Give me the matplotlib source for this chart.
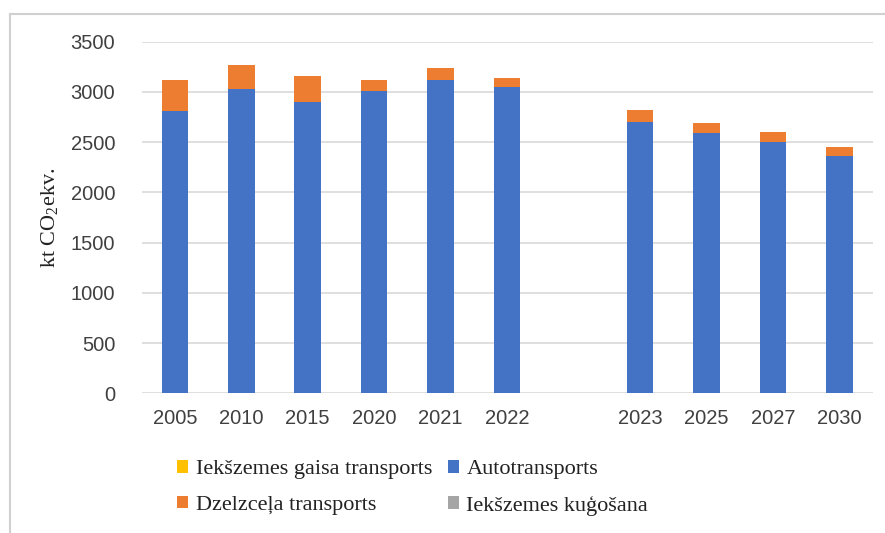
import matplotlib
matplotlib.use("Agg")
import matplotlib.pyplot as plt
from matplotlib.patches import Patch
from matplotlib.lines import Line2D
import numpy as np

plt.rcParams["mathtext.fontset"] = "custom"
plt.rcParams["mathtext.rm"] = "Liberation Serif"

# Categories (blank slot separates historic data from projections)
years = ["2005", "2010", "2015", "2020", "2021", "2022", "", "2023", "2025", "2027", "2030"]

# Emissions by sub-sector, kt CO2 eq.
aviation = [3, 3, 3, 2, 2, 2, 0, 2, 2, 2, 2]            # Iekšzemes gaisa transports
road = [2810, 3030, 2900, 3010, 3115, 3050, 0, 2700, 2590, 2500, 2360]   # Autotransports
rail = [306, 235, 257, 107, 116, 88, 0, 116, 94, 94, 88]          # Dzelzceļa transports
shipping = [2, 2, 2, 1, 1, 1, 0, 1, 1, 1, 1]             # Iekšzemes kuģošana

series_names = ["Iekšzemes gaisa transports", "Autotransports",
                "Dzelzceļa transports", "Iekšzemes kuģošana"]
colors = ["#FFC000", "#4472C4", "#ED7D31", "#A5A5A5"]
y_ticks = [0, 500, 1000, 1500, 2000, 2500, 3000, 3500]

fig = plt.figure(figsize=(8.85, 5.33), dpi=100)
ax = fig.add_axes([0.160, 0.262, 0.826, 0.660])

x = np.arange(len(years))
mask = np.array([y != "" for y in years])
bottom = np.zeros(len(years))
handles = []
for vals, name, col in zip([aviation, road, rail, shipping], series_names, colors):
    v = np.array(vals, dtype=float)
    ax.bar(x[mask], v[mask], bottom=bottom[mask], width=0.40, color=col,
           edgecolor="none", zorder=3)
    bottom += v
    handles.append(Patch(facecolor=col, edgecolor="none", label=name))

ax.set_xlim(-0.5, len(years) - 0.5)
ax.set_ylim(0, 3500)
ax.set_yticks(y_ticks)
ax.set_yticklabels([str(t) for t in y_ticks], family="Liberation Sans", fontsize=14.5,
                   color="#404040")
ax.set_xticks(x[mask])
ax.set_xticklabels([y for y in years if y], family="Liberation Sans", fontsize=14.5,
                   color="#404040")
ax.tick_params(axis="both", length=0)
ax.tick_params(axis="y", pad=19)
ax.tick_params(axis="x", pad=11)
ax.grid(axis="y", color="#D9D9D9", linewidth=1.2, zorder=0)
for s in ax.spines.values():
    s.set_visible(False)

ax.set_ylabel("kt CO$_2$ekv.", family="Liberation Serif", fontsize=16, color="#222222",
              labelpad=7)

# Legend: filled column-wise so rows read yellow/blue, orange/gray
order = [0, 2, 1, 3]
leg = fig.legend([handles[i] for i in order], [series_names[i] for i in order],
                 loc="center", bbox_to_anchor=(0.466, 0.085), ncol=2, frameon=False,
                 prop={"family": "Liberation Serif", "size": 16},
                 handlelength=0.5, handleheight=0.5, handletextpad=0.35,
                 columnspacing=0.7, labelspacing=0.75)
for t in leg.get_texts():
    t.set_color("#222222")

# Outer chart frame (top and left edges)
fig.add_artist(Line2D([0.011, 0.011], [0.0, 0.973], transform=fig.transFigure,
                      color="#D0D0D0", linewidth=1.5))
fig.add_artist(Line2D([0.011, 1.0], [0.973, 0.973], transform=fig.transFigure,
                      color="#D0D0D0", linewidth=1.5))

fig.savefig("out.png", dpi=100)
